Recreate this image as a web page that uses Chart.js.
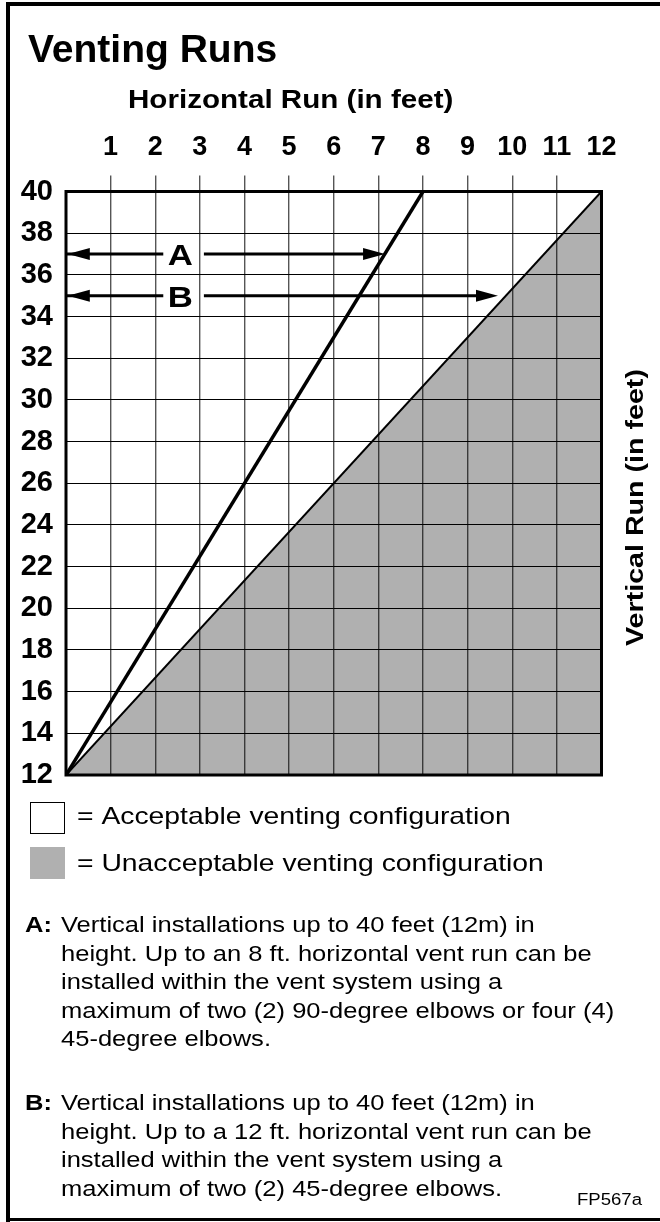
<!DOCTYPE html>
<html><head><meta charset="utf-8">
<script src="https://cdn.jsdelivr.net/npm/chart.js@4.4.0/dist/chart.umd.min.js"></script>
<style>html,body{margin:0;padding:0;background:#fff;}canvas{display:block;}</style>
</head><body>
<canvas id="c" width="660" height="1222" style="width:660px;height:1222px"></canvas>
<script>
// ---- data ----
const chartTitle = "Venting Runs";
const xAxisTitle = "Horizontal Run (in feet)";
const yAxisTitle = "Vertical Run (in feet)";
const xTickValues = [1,2,3,4,5,6,7,8,9,10,11,12];
const yTickValues = [12,14,16,18,20,22,24,26,28,30,32,34,36,38,40];
const xRange = [0, 12];
const yRange = [12, 40];
const lineAPoints = [{x:0,y:12},{x:8,y:40}];
const lineBPoints = [{x:0,y:12},{x:12,y:40}];
const arrowALevel = 37, arrowAEnd = 7.15;
const arrowBLevel = 35, arrowBEnd = 9.68;
const arrowLabelX = 2.56, arrowGapLeft = 2.18, arrowGapRight = 3.09;
const legendLabels = ["= Acceptable venting configuration", "= Unacceptable venting configuration"];
const noteA = ["Vertical installations up to 40 feet (12m) in",
  "height. Up to an 8 ft. horizontal vent run can be",
  "installed within the vent system using a",
  "maximum of two (2) 90-degree elbows or four (4)",
  "45-degree elbows."];
const noteB = ["Vertical installations up to 40 feet (12m) in",
  "height. Up to a 12 ft. horizontal vent run can be",
  "installed within the vent system using a",
  "maximum of two (2) 45-degree elbows."];
const figureCode = "FP567a";

// ---- styling ----
const SANS = "'Liberation Sans', Arial, Helvetica, sans-serif";
const NARROW = "'Liberation Sans Narrow', 'Arial Narrow', 'Liberation Sans', sans-serif";
const GRAY = 'rgba(0,0,0,0.31)';

function shaft(level, end) {
  return [{x:0,y:level},{x:arrowGapLeft,y:level},{x:(arrowGapLeft+arrowGapRight)/2,y:null},{x:arrowGapRight,y:level},{x:end,y:level}];
}

function txt(ctx, s, x, y, font, sx, align) {
  ctx.save();
  ctx.font = font; ctx.fillStyle = '#000';
  ctx.textBaseline = 'alphabetic'; ctx.textAlign = align || 'left';
  ctx.translate(x, y); ctx.scale(sx, 1);
  ctx.fillText(s, 0, 0);
  ctx.restore();
}

const decor = {
  id: 'decor',
  afterDraw(chart) {
    const ctx = chart.ctx, xs = chart.scales.x, ys = chart.scales.y, a = chart.chartArea;
    // plot frame
    ctx.save();
    ctx.strokeStyle = '#000'; ctx.lineWidth = 3;
    ctx.strokeRect(a.left, a.top, a.right - a.left, a.bottom - a.top);
    // arrowheads
    function head(xv, yv, dir) {
      const px = xs.getPixelForValue(xv), py = ys.getPixelForValue(yv);
      ctx.beginPath(); ctx.moveTo(px, py);
      ctx.lineTo(px - dir * 22, py - 6); ctx.lineTo(px - dir * 22, py + 6);
      ctx.closePath(); ctx.fillStyle = '#000'; ctx.fill();
    }
    head(0.04, arrowALevel, -1); head(arrowAEnd, arrowALevel, 1);
    head(0.04, arrowBLevel, -1); head(arrowBEnd, arrowBLevel, 1);
    ctx.restore();
    txt(ctx, 'A', xs.getPixelForValue(arrowLabelX), ys.getPixelForValue(arrowALevel) + 11, 'bold 30px ' + SANS, 1.16, 'center');
    txt(ctx, 'B', xs.getPixelForValue(arrowLabelX), ys.getPixelForValue(arrowBLevel) + 11, 'bold 30px ' + SANS, 1.16, 'center');

    // outer page frame
    ctx.save(); ctx.fillStyle = '#000';
    ctx.fillRect(6, 2, 654, 4);
    ctx.fillRect(6, 2, 4, 1220);
    ctx.fillRect(6, 1218, 654, 3);
    ctx.restore();

    // titles
    txt(ctx, chartTitle, 28, 62, 'bold 39px ' + SANS, 1, 'left');
    txt(ctx, xAxisTitle, 128, 108, 'bold 25.5px ' + SANS, 1.16, 'left');
    ctx.save();
    ctx.translate(643, 507.5); ctx.rotate(-Math.PI / 2);
    txt(ctx, yAxisTitle, 0, 0, 'bold 24.7px ' + SANS, 1.16, 'center');
    ctx.restore();

    // legend
    ctx.save();
    ctx.strokeStyle = '#000'; ctx.lineWidth = 1;
    ctx.strokeRect(30.5, 802.5, 34, 31);
    ctx.fillStyle = GRAY; ctx.fillRect(30, 847, 35, 32);
    ctx.restore();
    txt(ctx, legendLabels[0], 77, 824, '24px ' + SANS, 1.18, 'left');
    txt(ctx, legendLabels[1], 77, 871, '24px ' + SANS, 1.18, 'left');

    // notes
    const nf = '22px ' + SANS, bf = 'bold 22px ' + SANS, lh = 28.5;
    txt(ctx, 'A:', 25, 932, bf, 1.16, 'left');
    noteA.forEach((s, i) => txt(ctx, s, 61, 932 + i * lh, nf, 1.16, 'left'));
    txt(ctx, 'B:', 25, 1110, bf, 1.16, 'left');
    noteB.forEach((s, i) => txt(ctx, s, 61, 1110 + i * lh, nf, 1.16, 'left'));
    txt(ctx, figureCode, 577, 1205, '16px ' + SANS, 1.16, 'left');
  }
};

new Chart(document.getElementById('c'), {
  type: 'line',
  data: {
    datasets: [
      { data: lineAPoints, borderColor: '#000', borderWidth: 3.5, pointRadius: 0, fill: false },
      { data: lineBPoints, borderColor: '#000', borderWidth: 2, pointRadius: 0, fill: 'start', backgroundColor: GRAY },
      { data: shaft(arrowALevel, arrowAEnd - 0.3), borderColor: '#000', borderWidth: 3, pointRadius: 0, fill: false, spanGaps: false },
      { data: shaft(arrowBLevel, arrowBEnd - 0.3), borderColor: '#000', borderWidth: 3, pointRadius: 0, fill: false, spanGaps: false }
    ]
  },
  options: {
    responsive: false,
    devicePixelRatio: 1,
    animation: false,
    events: [],
    layout: { padding: { left: 10, right: 58.5, top: 100, bottom: 447 } },
    plugins: { legend: { display: false }, tooltip: { enabled: false }, title: { display: false } },
    scales: {
      x: {
        type: 'linear', position: 'top', min: xRange[0], max: xRange[1],
        afterFit(s) { s.height = 91.5; },
        ticks: {
          stepSize: 1, autoSkip: false, maxRotation: 0, padding: 12, color: '#000',
          font: { family: NARROW, size: 27, weight: 'bold' },
          callback: v => xTickValues.includes(v) ? String(v) : ''
        },
        grid: {
          color: c => (c.tick && (c.tick.value === xRange[0] || c.tick.value === xRange[1])) ? 'rgba(0,0,0,0)' : '#555',
          lineWidth: 1.4, tickLength: 16, drawTicks: true
        },
        border: { display: false }
      },
      y: {
        type: 'linear', position: 'left', min: yRange[0], max: yRange[1],
        afterFit(s) { s.width = 56; },
        ticks: {
          stepSize: 2, autoSkip: false, padding: 13, color: '#000',
          font: { family: NARROW, size: 29, weight: 'bold' },
          callback: v => yTickValues.includes(v) ? String(v) : ''
        },
        grid: {
          color: c => (c.tick && (c.tick.value === yRange[0] || c.tick.value === yRange[1])) ? 'rgba(0,0,0,0)' : '#000',
          lineWidth: 1, drawTicks: false
        },
        border: { display: false }
      }
    }
  },
  plugins: [decor]
});
</script>
</body></html>
